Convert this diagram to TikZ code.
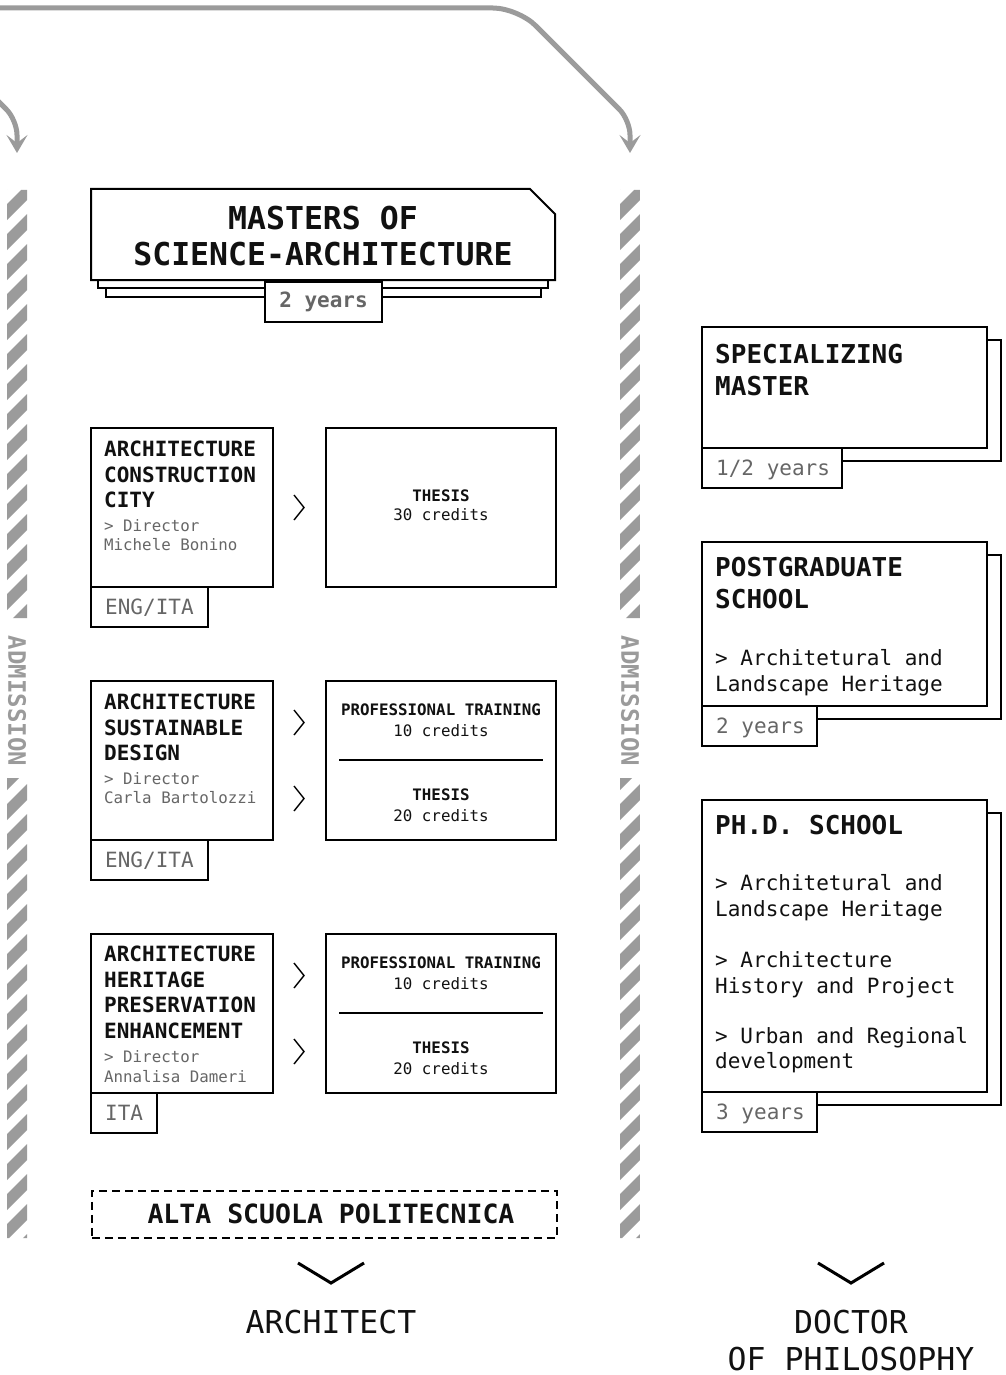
\documentclass[tikz,border=0pt]{standalone}
\usepackage{fontspec}
\setmonofont{DejaVu Sans Mono}
\usetikzlibrary{arrows.meta}
\definecolor{stripe}{HTML}{9B9B9B}
\definecolor{soft}{HTML}{666666}
\definecolor{ink}{HTML}{111111}
\newcommand{\myfs}[1]{\fontsize{#1}{#1}\selectfont}
\begin{document}
\begin{tikzpicture}[x=1pt,y=-1pt,
  box/.style={draw=black, line width=2pt, fill=white, inner sep=0pt, outer sep=0pt, anchor=north west, rectangle},
  ptitle/.style={anchor=base west, inner sep=0pt, text=ink, font=\ttfamily\bfseries\myfs{21}},
  pdir/.style={anchor=base west, inner sep=0pt, text=soft, font=\ttfamily\myfs{15.8}},
  tabtxt/.style={anchor=base west, inner sep=0pt, text=soft, font=\ttfamily\myfs{21}},
  cbold/.style={anchor=base, inner sep=0pt, text=ink, font=\ttfamily\bfseries\myfs{15.8}},
  creg/.style={anchor=base, inner sep=0pt, text=ink, font=\ttfamily\myfs{15.8}},
  rtitle/.style={anchor=base west, inner sep=0pt, text=ink, font=\ttfamily\bfseries\myfs{26}},
  rline/.style={anchor=base west, inner sep=0pt, text=ink, font=\ttfamily\myfs{21}},
  outcome/.style={anchor=base, inner sep=0pt, text=ink, font=\ttfamily\myfs{31.5}},
  chev/.style={draw=black, line width=1.4pt},
  bigchev/.style={draw=black, line width=3pt},
  flow/.style={draw=stripe, line width=5pt, -{Stealth[length=18pt,width=21pt,inset=8pt]}},
  admit/.style={inner sep=0pt, text=stripe, font=\ttfamily\bfseries\myfs{24}, rotate=-90},
]
\useasboundingbox (0,0) rectangle (1005,1375);

% ---------- top flow arrows ----------
\coordinate (lstart) at (-60,43);
\coordinate (lend) at (17,153);
\coordinate (rstart) at (-20,8);
\coordinate (rend) at (630,153);
\draw[flow, rounded corners=15pt] (lstart) -- (17,120) -- (lend);
\draw[flow] (rstart) [rounded corners=25pt] -- (518,8) [rounded corners=15pt] -- (630,120) -- (rend);

% ---------- hatched admission bands ----------
\foreach \bx in {7,620}{
  \begin{scope}
    \clip (\bx,190) rectangle ({\bx+20},618) (\bx,778) rectangle ({\bx+20},1238);
    \foreach \yy in {154,184,...,1254}{
      \fill[stripe] ({\bx+20},\yy) -- ({\bx+20},{\yy+16}) -- (\bx,{\yy+36}) -- (\bx,{\yy+20}) -- cycle;
    }
  \end{scope}
}
\node[admit] (admL) at (17,701) {ADMISSION};
\node[admit] (admR) at (630,701) {ADMISSION};

% ---------- masters header ----------
\draw[line width=2pt, fill=white] (98,280) rectangle (548,288);
\draw[line width=2pt, fill=white] (106,288) rectangle (541,297);
\draw[line width=2pt, fill=white] (91,189) -- (530,189) -- (555,214) -- (555,280) -- (91,280) -- cycle;
\coordinate (mastc) at (323,235);
\node[anchor=base, inner sep=0pt, text=ink, font=\ttfamily\bfseries\myfs{31.5}] (mast1) at (323,229) {MASTERS OF};
\node[anchor=base, inner sep=0pt, text=ink, font=\ttfamily\bfseries\myfs{31.5}] (mast2) at (323,265) {SCIENCE-ARCHITECTURE};
\node[box, minimum width=117pt, minimum height=40pt] (mtab) at (265,282) {};
\node[anchor=base, inner sep=0pt, text=soft, font=\ttfamily\bfseries\myfs{21}] (mtabt) at (323.5,307) {2 years};

% ---------- programme 1 ----------
\node[box, minimum width=182pt, minimum height=159pt] (p1) at (91,428) {};
\node[box, minimum width=117pt, minimum height=40pt] (p1tab) at (91,587) {};
\node[tabtxt] (p1lang) at (105,614) {ENG/ITA};
\node[ptitle] (p1a) at (104,456) {ARCHITECTURE};
\node[ptitle] (p1b) at (104,482) {CONSTRUCTION};
\node[ptitle] (p1c) at (104,507) {CITY};
\node[pdir] (p1d) at (104,531) {> Director};
\node[pdir] (p1e) at (104,550) {Michele Bonino};
\node[box, minimum width=230pt, minimum height=159pt] (t1) at (326,428) {};
\node[cbold] (t1a) at (441,501) {THESIS};
\node[creg] (t1b) at (441,520) {30 credits};
\draw[chev] (294,495) -- (304,507.5) -- (294,520);

% ---------- programme 2 ----------
\node[box, minimum width=182pt, minimum height=159pt] (p2) at (91,681) {};
\node[box, minimum width=117pt, minimum height=40pt] (p2tab) at (91,840) {};
\node[tabtxt] (p2lang) at (105,867) {ENG/ITA};
\node[ptitle] (p2a) at (104,709) {ARCHITECTURE};
\node[ptitle] (p2b) at (104,735) {SUSTAINABLE};
\node[ptitle] (p2c) at (104,760) {DESIGN};
\node[pdir] (p2d) at (104,784) {> Director};
\node[pdir] (p2e) at (104,803) {Carla Bartolozzi};
\node[box, minimum width=230pt, minimum height=159pt] (t2) at (326,681) {};
\node[cbold] (t2a) at (441,715) {PROFESSIONAL TRAINING};
\node[creg] (t2b) at (441,736) {10 credits};
\draw[line width=1.6pt] (339,760) -- (543,760);
\node[cbold] (t2c) at (441,800) {THESIS};
\node[creg] (t2d) at (441,821) {20 credits};
\draw[chev] (294,710) -- (304,722.5) -- (294,735);
\draw[chev] (294,786) -- (304,798.5) -- (294,811);

% ---------- programme 3 ----------
\node[box, minimum width=182pt, minimum height=159pt] (p3) at (91,934) {};
\node[box, minimum width=66pt, minimum height=40pt] (p3tab) at (91,1093) {};
\node[tabtxt] (p3lang) at (105,1120) {ITA};
\node[ptitle] (p3a) at (104,961) {ARCHITECTURE};
\node[ptitle] (p3b) at (104,987) {HERITAGE};
\node[ptitle] (p3c) at (104,1012) {PRESERVATION};
\node[ptitle] (p3d) at (104,1038) {ENHANCEMENT};
\node[pdir] (p3e) at (104,1062) {> Director};
\node[pdir] (p3f) at (104,1082) {Annalisa Dameri};
\node[box, minimum width=230pt, minimum height=159pt] (t3) at (326,934) {};
\node[cbold] (t3a) at (441,968) {PROFESSIONAL TRAINING};
\node[creg] (t3b) at (441,989) {10 credits};
\draw[line width=1.6pt] (339,1013) -- (543,1013);
\node[cbold] (t3c) at (441,1053) {THESIS};
\node[creg] (t3d) at (441,1074) {20 credits};
\draw[chev] (294,963) -- (304,975.5) -- (294,988);
\draw[chev] (294,1039) -- (304,1051.5) -- (294,1064);

% ---------- alta scuola ----------
\node[draw=black, dashed, dash pattern=on 8pt off 5pt, line width=1.6pt, inner sep=0pt, anchor=north west,
      minimum width=465pt, minimum height=47pt] (asp) at (91,1190) {};
\node[anchor=base, inner sep=0pt, text=ink, font=\ttfamily\bfseries\myfs{26.5}] (aspt) at (331,1223) {ALTA SCUOLA POLITECNICA};

% ---------- outcomes ----------
\draw[bigchev] (298,1263) -- (331,1283) -- (364,1263);
\node[outcome] (arch) at (331,1333) {ARCHITECT};
\draw[bigchev] (818,1263) -- (851,1283) -- (884,1263);
\node[outcome] (doc1) at (851,1333) {DOCTOR};
\node[outcome] (doc2) at (851,1370) {OF PHILOSOPHY};

% ---------- specializing master ----------
\node[box, minimum width=285pt, minimum height=121pt] (s1sh) at (716,340) {};
\node[box, minimum width=285pt, minimum height=121pt] (s1) at (702,327) {};
\node[box, minimum width=140pt, minimum height=40pt] (s1tab) at (702,448) {};
\node[rtitle] (s1a) at (715,363.5) {SPECIALIZING};
\node[rtitle] (s1b) at (715,395.5) {MASTER};
\node[tabtxt] (s1y) at (716,475.5) {1/2 years};

% ---------- postgraduate school ----------
\node[box, minimum width=285pt, minimum height=164pt] (s2sh) at (716,555) {};
\node[box, minimum width=285pt, minimum height=164pt] (s2) at (702,542) {};
\node[box, minimum width=115pt, minimum height=40pt] (s2tab) at (702,706) {};
\node[rtitle] (s2a) at (715,576.5) {POSTGRADUATE};
\node[rtitle] (s2b) at (715,608.5) {SCHOOL};
\node[rline] (s2c) at (715,665) {> Architetural and};
\node[rline] (s2d) at (715,691) {Landscape Heritage};
\node[tabtxt] (s2y) at (716,733) {2 years};

% ---------- phd school ----------
\node[box, minimum width=285pt, minimum height=292pt] (s3sh) at (716,813) {};
\node[box, minimum width=285pt, minimum height=292pt] (s3) at (702,800) {};
\node[box, minimum width=115pt, minimum height=40pt] (s3tab) at (702,1092) {};
\node[rtitle] (s3a) at (715,834) {PH.D. SCHOOL};
\node[rline] (s3b) at (715,890) {> Architetural and};
\node[rline] (s3c) at (715,916) {Landscape Heritage};
\node[rline] (s3d) at (715,967) {> Architecture};
\node[rline] (s3e) at (715,993) {History and Project};
\node[rline] (s3f) at (715,1043) {> Urban and Regional};
\node[rline] (s3g) at (715,1068) {development};
\node[tabtxt] (s3y) at (716,1119) {3 years};
\end{tikzpicture}
\end{document}
